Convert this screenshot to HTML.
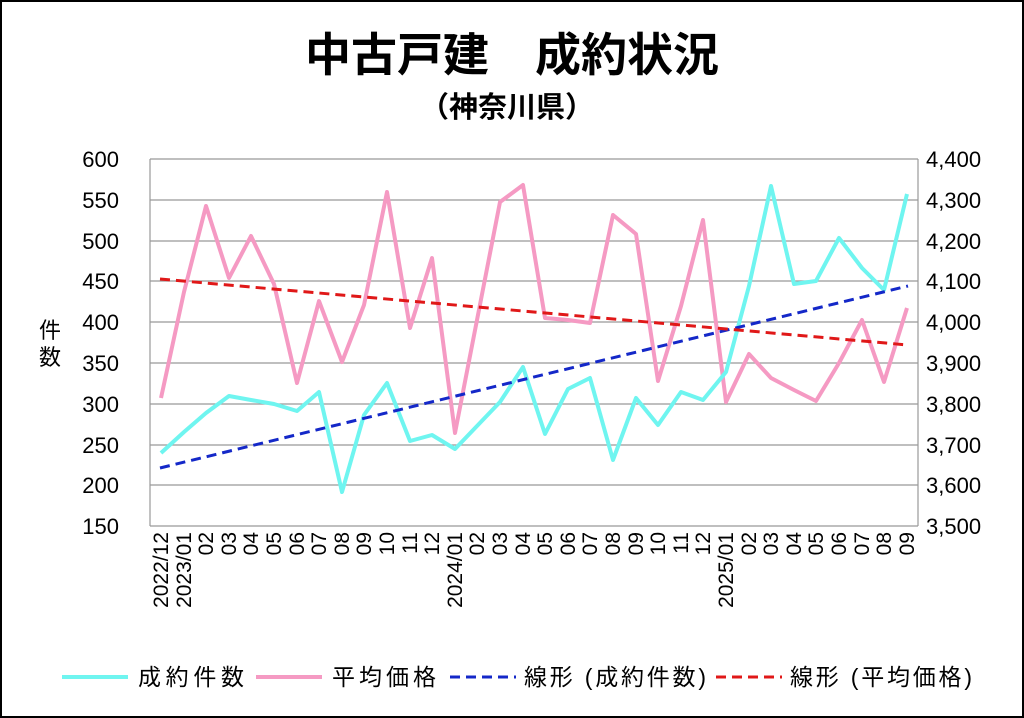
<!DOCTYPE html>
<html><head><meta charset="utf-8"><style>
html,body{margin:0;padding:0;background:#fff}
svg{display:block;font-family:"Liberation Sans","Noto Sans CJK JP",sans-serif}
</style></head><body>
<svg width="1024" height="718" viewBox="0 0 1024 718" xmlns="http://www.w3.org/2000/svg">
<rect x="1" y="1" width="1022" height="716" fill="#fff" stroke="#000" stroke-width="2"/>
<text x="512" y="71" text-anchor="middle" font-size="46" font-weight="bold" font-family="'Noto Sans CJK JP',sans-serif">中古戸建　成約状況</text>
<text x="507" y="117" text-anchor="middle" font-size="29" font-weight="bold" font-family="'Noto Sans CJK JP',sans-serif">（神奈川県）</text>
<g stroke="#999" stroke-width="1.2">
<line x1="150" y1="159" x2="918" y2="159"/><line x1="150" y1="200" x2="918" y2="200"/><line x1="150" y1="241" x2="918" y2="241"/><line x1="150" y1="281" x2="918" y2="281"/><line x1="150" y1="322" x2="918" y2="322"/><line x1="150" y1="363" x2="918" y2="363"/><line x1="150" y1="404" x2="918" y2="404"/><line x1="150" y1="445" x2="918" y2="445"/><line x1="150" y1="485" x2="918" y2="485"/><line x1="150" y1="526" x2="918" y2="526"/>
<line x1="150" y1="159" x2="150" y2="526"/><line x1="918" y1="159" x2="918" y2="526"/>
</g>
<g font-size="22" text-anchor="end">
<text x="119" y="167">600</text><text x="119" y="208">550</text><text x="119" y="249">500</text><text x="119" y="289">450</text><text x="119" y="330">400</text><text x="119" y="371">350</text><text x="119" y="412">300</text><text x="119" y="453">250</text><text x="119" y="493">200</text><text x="119" y="534">150</text>
</g>
<g font-size="22">
<text x="926" y="167">4,400</text><text x="926" y="208">4,300</text><text x="926" y="249">4,200</text><text x="926" y="289">4,100</text><text x="926" y="330">4,000</text><text x="926" y="371">3,900</text><text x="926" y="412">3,800</text><text x="926" y="453">3,700</text><text x="926" y="493">3,600</text><text x="926" y="534">3,500</text>
</g>
<text x="50" y="338" font-size="22" text-anchor="middle" font-family="'Noto Sans CJK JP',sans-serif">件</text>
<text x="50" y="365" font-size="22" text-anchor="middle" font-family="'Noto Sans CJK JP',sans-serif">数</text>
<polyline fill="none" stroke="#f59ac3" stroke-width="4" stroke-linejoin="round" points="161,398 184,292 206,206 229,278 251,236 274,284 297,383 319,301 342,362 364,305 387,192 410,328 432,258 455,433 477,320 500,202 523,185 545,318 568,320 590,323 613,215 636,234 658,381 681,306 703,220 726,402 749,354 771,378 794,390 816,401 839,363 862,320 884,382 907,308"/>
<polyline fill="none" stroke="#6ff5f0" stroke-width="4" stroke-linejoin="round" points="161,453 184,432 206,413 229,396 251,400 274,404 297,411 319,392 342,492 364,415 387,383 410,441 432,435 455,449 477,426 500,402 523,367 545,434 568,389 590,378 613,460 636,398 658,425 681,392 703,400 726,372 749,286 771,186 794,284 816,281 839,238 862,268 884,290 907,194"/>
<line x1="160" y1="468" x2="908" y2="286" stroke="#1428c8" stroke-width="3" stroke-dasharray="10,6"/>
<line x1="160" y1="279" x2="908" y2="345" stroke="#e01818" stroke-width="3" stroke-dasharray="10,6"/>
<g font-size="23">
<line x1="62" y1="677" x2="128" y2="677" stroke="#6ff5f0" stroke-width="4"/><text x="138" y="685" textLength="106">成約件数</text>
<line x1="256" y1="677" x2="322" y2="677" stroke="#f59ac3" stroke-width="4"/><text x="332" y="685" textLength="104">平均価格</text>
<line x1="450" y1="677" x2="516" y2="677" stroke="#1428c8" stroke-width="3" stroke-dasharray="10,6"/><text x="524" y="685" textLength="182">線形 (成約件数)</text>
<line x1="716" y1="677" x2="782" y2="677" stroke="#e01818" stroke-width="3" stroke-dasharray="10,6"/><text x="790" y="685" textLength="182">線形 (平均価格)</text>
</g>
<g font-size="21" text-anchor="end">
<text transform="translate(168,532) rotate(-90)">2022/12</text>
<text transform="translate(191,532) rotate(-90)">2023/01</text>
<text transform="translate(213,532) rotate(-90)">02</text>
<text transform="translate(236,532) rotate(-90)">03</text>
<text transform="translate(258,532) rotate(-90)">04</text>
<text transform="translate(281,532) rotate(-90)">05</text>
<text transform="translate(304,532) rotate(-90)">06</text>
<text transform="translate(326,532) rotate(-90)">07</text>
<text transform="translate(349,532) rotate(-90)">08</text>
<text transform="translate(371,532) rotate(-90)">09</text>
<text transform="translate(394,532) rotate(-90)">10</text>
<text transform="translate(417,532) rotate(-90)">11</text>
<text transform="translate(439,532) rotate(-90)">12</text>
<text transform="translate(462,532) rotate(-90)">2024/01</text>
<text transform="translate(484,532) rotate(-90)">02</text>
<text transform="translate(507,532) rotate(-90)">03</text>
<text transform="translate(530,532) rotate(-90)">04</text>
<text transform="translate(552,532) rotate(-90)">05</text>
<text transform="translate(575,532) rotate(-90)">06</text>
<text transform="translate(597,532) rotate(-90)">07</text>
<text transform="translate(620,532) rotate(-90)">08</text>
<text transform="translate(643,532) rotate(-90)">09</text>
<text transform="translate(665,532) rotate(-90)">10</text>
<text transform="translate(688,532) rotate(-90)">11</text>
<text transform="translate(710,532) rotate(-90)">12</text>
<text transform="translate(733,532) rotate(-90)">2025/01</text>
<text transform="translate(756,532) rotate(-90)">02</text>
<text transform="translate(778,532) rotate(-90)">03</text>
<text transform="translate(801,532) rotate(-90)">04</text>
<text transform="translate(823,532) rotate(-90)">05</text>
<text transform="translate(846,532) rotate(-90)">06</text>
<text transform="translate(869,532) rotate(-90)">07</text>
<text transform="translate(891,532) rotate(-90)">08</text>
<text transform="translate(914,532) rotate(-90)">09</text>
</g>
</svg>
</body></html>
